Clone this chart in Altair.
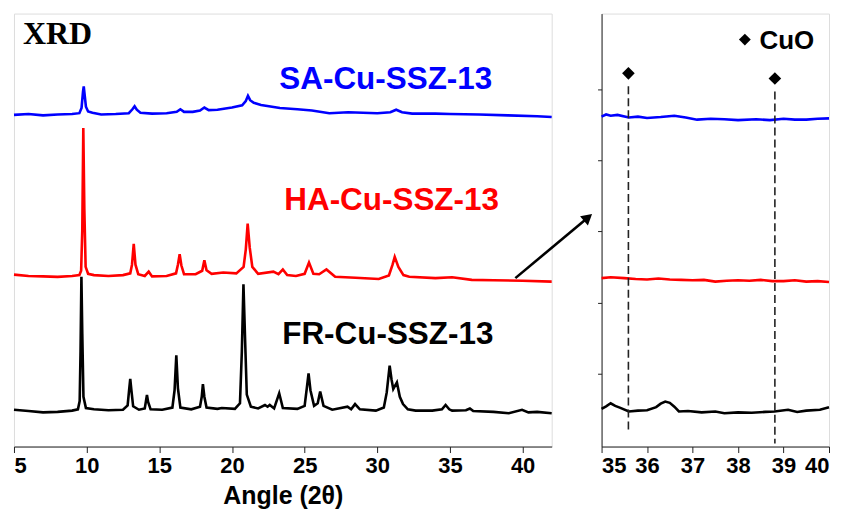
import altair as alt
import pandas as pd

# ---------------- data (angle 2theta, intensity a.u.) ----------------
sa_angle = [5.0, 6.0, 7.0, 8.0, 9.0, 9.5, 9.65, 9.75, 9.8, 9.87, 9.95, 10.1, 10.4, 11.0, 12.0, 12.9,
            13.15, 13.3, 13.45, 13.7, 14.5, 15.5, 16.2, 16.45, 16.7, 17.3, 17.8, 18.1, 18.4, 19.0,
            20.0, 20.7, 20.95, 21.1, 21.25, 21.5, 22.0, 23.3, 24.5, 25.5, 26.7, 28.0, 30.0, 30.9,
            31.3, 31.7, 32.4, 34.0, 35.0, 37.0, 39.0, 41.0, 42.0]
sa_int = [76.6, 76.8, 76.5, 76.7, 76.8, 77.0, 78.2, 82.0, 83.2, 81.0, 78.5, 77.4, 77.1, 76.7, 76.8, 77.0,
          77.9, 78.6, 77.8, 77.1, 76.9, 77.0, 77.3, 77.9, 77.3, 77.3, 77.6, 78.3, 77.7, 77.8,
          78.3, 78.8, 79.8, 81.0, 80.0, 79.4, 78.9, 78.2, 77.9, 77.6, 77.0, 77.2, 77.0, 77.2,
          77.8, 77.2, 76.9, 76.9, 76.8, 76.7, 76.5, 76.3, 76.1]

ha_angle = [5.0, 6.0, 7.0, 8.0, 9.0, 9.5, 9.62, 9.7, 9.77, 9.84, 9.93, 10.1, 10.5, 11.5, 12.5, 13.0,
            13.12, 13.24, 13.36, 13.55, 14.0, 14.27, 14.5, 15.5, 16.15, 16.28, 16.4, 16.52, 16.7,
            17.5, 17.95, 18.1, 18.25, 18.6, 19.4, 20.3, 20.8, 20.95, 21.08, 21.22, 21.4, 21.8,
            22.85, 23.2, 23.5, 23.8, 24.4, 25.0, 25.3, 25.6, 26.0, 26.5, 27.1, 28.5, 30.1, 30.8,
            31.05, 31.2, 31.45, 31.8, 32.2, 34.0, 35.15, 36.5, 38.0, 40.0, 42.0]
ha_int = [39.7, 39.4, 39.3, 39.2, 39.4, 39.6, 40.6, 50.0, 73.6, 55.0, 41.5, 39.9, 39.6, 39.4, 39.6, 40.0,
          42.0, 46.8, 42.0, 39.8, 39.4, 40.4, 39.3, 39.4, 40.0, 42.0, 44.4, 41.8, 39.8,
          39.8, 40.6, 43.0, 40.7, 39.9, 40.2, 40.0, 41.5, 45.5, 51.5, 46.0, 41.5, 39.9,
          40.4, 39.8, 40.9, 39.6, 39.4, 39.9, 42.5, 39.9, 39.8, 40.9, 39.2, 39.0, 38.7, 39.5,
          42.0, 43.8, 41.5, 39.6, 39.2, 38.9, 39.1, 38.5, 38.4, 38.3, 38.1]

fr_angle = [5.0, 6.0, 7.0, 8.0, 9.0, 9.4, 9.52, 9.58, 9.64, 9.7, 9.78, 9.95, 10.5, 11.5, 12.5, 12.82,
            12.92, 13.0, 13.08, 13.2, 13.6, 14.0, 14.08, 14.15, 14.23, 14.4, 15.2, 15.9, 16.05,
            16.17, 16.28, 16.45, 17.2, 17.8, 17.92, 18.0, 18.1, 18.25, 19.0, 19.3, 20.2, 20.55,
            20.68, 20.79, 20.9, 21.02, 21.3, 21.8, 22.27, 22.45, 22.6, 22.9, 23.25, 23.5, 24.5,
            25.0, 25.15, 25.27, 25.4, 25.65, 25.9, 26.07, 26.3, 26.9, 27.95, 28.2, 28.47, 28.8,
            29.9, 30.45, 30.65, 30.85, 30.98, 31.1, 31.35, 31.55, 31.77, 32.1, 32.64, 33.78,
            34.45, 34.7, 34.95, 35.15, 36.1, 36.37, 36.6, 38.0, 39.05, 39.96, 40.4, 41.0, 42.0]
fr_int = [8.5, 8.2, 7.9, 8.0, 8.3, 8.6, 10.5, 22.0, 39.2, 26.0, 11.5, 8.9, 8.6, 8.4, 8.5, 9.5,
          13.0, 15.6, 13.0, 9.3, 8.5, 8.8, 10.5, 11.9, 10.3, 8.6, 8.5, 9.0, 13.0,
          21.1, 13.5, 9.0, 8.6, 9.2, 11.5, 14.4, 11.5, 9.0, 8.7, 8.9, 8.7, 10.0,
          22.0, 37.5, 25.0, 12.0, 9.2, 8.8, 9.6, 9.2, 9.6, 8.8, 12.3, 8.9, 8.7,
          9.4, 13.5, 16.9, 13.0, 9.4, 10.0, 12.7, 9.4, 8.5, 9.2, 8.6, 9.8, 8.6,
          8.3, 9.0, 12.5, 18.7, 15.5, 13.3, 14.8, 11.5, 9.8, 8.6, 8.3, 8.3,
          8.6, 9.6, 8.6, 8.3, 8.4, 8.8, 8.2, 8.0, 7.7, 8.5, 7.9, 8.0, 7.7]

# zoomed window 35-40 degrees
z_sa_angle = [35.0, 35.1, 35.2, 35.35, 35.6, 35.8, 36.0, 36.3, 36.6, 36.85, 37.1, 37.4, 37.7, 38.0,
              38.4, 38.7, 39.0, 39.25, 39.5, 39.75, 40.0]
z_sa_int = [76.2, 76.7, 76.4, 76.6, 76.0, 76.2, 75.9, 76.1, 76.4, 76.0, 75.5, 75.7, 75.6, 75.4,
            75.6, 75.4, 75.7, 75.5, 75.5, 75.7, 75.8]
z_ha_angle = [35.0, 35.2, 35.5, 35.75, 36.0, 36.25, 36.5, 36.75, 37.0, 37.25, 37.5, 37.75, 38.0,
              38.25, 38.5, 38.75, 39.0, 39.25, 39.5, 39.75, 40.0]
z_ha_int = [38.9, 39.1, 38.9, 38.7, 38.6, 38.8, 38.6, 38.5, 38.4, 38.5, 38.1, 38.3, 38.4,
            38.3, 38.5, 38.2, 38.2, 38.4, 38.1, 38.2, 38.0]
z_fr_angle = [35.0, 35.1, 35.2, 35.3, 35.4, 35.6, 35.8, 36.0, 36.2, 36.3, 36.4, 36.5, 36.6, 36.7,
              36.9, 37.2, 37.5, 37.7, 38.0, 38.3, 38.6, 38.8, 39.1, 39.3, 39.5, 39.8, 40.0]
z_fr_int = [8.7, 9.3, 10.0, 9.4, 9.0, 8.1, 8.3, 8.4, 9.1, 9.9, 10.4, 10.1, 9.2, 8.1,
            8.2, 7.9, 8.1, 7.7, 7.9, 7.8, 8.0, 8.1, 8.5, 8.0, 8.3, 8.5, 9.1]

series = ["SA-Cu-SSZ-13", "HA-Cu-SSZ-13", "FR-Cu-SSZ-13"]
series_colors = ["#0000ff", "#ff0000", "#000000"]

# text annotations (left panel)
label_x = [23.26, 23.6, 23.46]
label_y = [82.5, 54.6, 23.7]

# CuO reflections in zoomed window
cuo_angle = [35.59, 38.81]
cuo_marker_y = [86.2, 85.0]
cuo_line_top = [83.2, 82.0]
cuo_line_bottom = [3.0, 0.7]

# arrow from left panel to zoom window
arrow_x = [39.5, 44.5]
arrow_y = [38.9, 52.9]

right_ticks = [16.8, 33.2, 49.8, 66.1, 82.5]

FONT = "Liberation Sans"


def build(angles, ints, name):
    return pd.DataFrame({"angle": angles, "intensity": ints, "sample": name})


left_df = pd.concat([build(sa_angle, sa_int, series[0]),
                     build(ha_angle, ha_int, series[1]),
                     build(fr_angle, fr_int, series[2])])
right_df = pd.concat([build(z_sa_angle, z_sa_int, series[0]),
                      build(z_ha_angle, z_ha_int, series[1]),
                      build(z_fr_angle, z_fr_int, series[2])])

color = alt.Color("sample:N", scale=alt.Scale(domain=series, range=series_colors), legend=None)
yscale = alt.Scale(domain=[0, 100], nice=False, zero=False)

axis_common = dict(labelFont=FONT, labelFontWeight="bold", labelFontSize=22, labelColor="black",
                   titleFont=FONT, titleFontWeight="bold", titleFontSize=25, titleColor="black",
                   tickColor="#222", domainColor="#222", grid=False, labelOverlap=False,
                   labelPadding=3)

x_left = alt.X("angle:Q", scale=alt.Scale(domain=[5, 42], nice=False, zero=False),
               axis=alt.Axis(title="Angle (2θ)",
                             values=[5 + 2.5 * i for i in range(15)],
                             labelExpr="datum.value % 5 === 0 ? format(datum.value, 'd') : ''",
                             tickSize={"condition": {"test": "datum.value % 5 === 0", "value": 6}, "value": 4},
                             titlePadding=7, **axis_common))

W_L, H = 539, 434
W_R = 228

lines_left = alt.Chart(left_df).mark_line(strokeWidth=2.6).encode(
    x=x_left,
    y=alt.Y("intensity:Q", scale=yscale, axis=None),
    color=color,
    detail="sample:N",
)

labels_df = pd.DataFrame({"angle": label_x, "intensity": label_y, "sample": series})
labels = alt.Chart(labels_df).mark_text(font=FONT, fontWeight="bold", fontSize=31.5, align="left",
                                        baseline="alphabetic").encode(
    x="angle:Q", y="intensity:Q", text="sample:N", color=color)

xrd = alt.Chart(pd.DataFrame({"angle": [5.62], "intensity": [92.9], "t": ["XRD"]})).mark_text(
    font="Liberation Serif", fontWeight="bold", fontSize=32, align="left", baseline="alphabetic",
    color="black").encode(x="angle:Q", y="intensity:Q", text="t:N")

arrow_df = pd.DataFrame({"x": [arrow_x[0]], "y": [arrow_y[0]], "x2": [arrow_x[1]], "y2": [arrow_y[1]]})
arrow_line = alt.Chart(arrow_df).mark_rule(strokeWidth=2.6, color="black").encode(
    x="x:Q", y="y:Q", x2="x2:Q", y2="y2:Q")
arrow_head = alt.Chart(pd.DataFrame({"x": [arrow_x[1]], "y": [arrow_y[1]]})).mark_point(
    shape="triangle-up", filled=True, size=150, angle=50, color="black", opacity=1).encode(
    x="x:Q", y="y:Q")

left = alt.layer(lines_left, labels, xrd, arrow_line, arrow_head).properties(width=W_L, height=H)

# ---------------- right panel ----------------
x_right = alt.X("angle:Q", scale=alt.Scale(domain=[35, 40], nice=False, zero=False),
                axis=alt.Axis(title=None, values=[35 + 0.5 * i for i in range(11)],
                              labelExpr="datum.value % 1 === 0 ? format(datum.value, 'd') : ''",
                              tickSize={"condition": {"test": "datum.value % 1 === 0", "value": 6}, "value": 4},
                              **axis_common))

lines_right = alt.Chart(right_df).mark_line(strokeWidth=2.6).encode(
    x=x_right,
    y=alt.Y("intensity:Q", scale=yscale,
            axis=alt.Axis(title=None, labels=False, values=right_ticks, tickSize=4,
                          tickColor="#222", domainColor="#222", grid=False)),
    color=color,
    detail="sample:N",
)

cuo_df = pd.DataFrame({"angle": cuo_angle, "top": cuo_line_top, "bottom": cuo_line_bottom,
                       "marker": cuo_marker_y})
dashes = alt.Chart(cuo_df).mark_rule(strokeDash=[8, 4], strokeWidth=1.6, color="#222").encode(
    x="angle:Q", y="top:Q", y2="bottom:Q")
diamonds = alt.Chart(cuo_df).mark_point(shape="diamond", filled=True, size=160, color="black",
                                        opacity=1).encode(x="angle:Q", y="marker:Q")

legend_diamond = alt.Chart(pd.DataFrame({"angle": [38.15], "intensity": [94.0]})).mark_point(
    shape="diamond", filled=True, size=140, color="black", opacity=1).encode(x="angle:Q", y="intensity:Q")
legend_text = alt.Chart(pd.DataFrame({"angle": [38.47], "intensity": [91.9], "t": ["CuO"]})).mark_text(
    font=FONT, fontWeight="bold", fontSize=26, align="left", baseline="alphabetic", color="black").encode(
    x="angle:Q", y="intensity:Q", text="t:N")

right = alt.layer(lines_right, dashes, diamonds, legend_diamond, legend_text).properties(width=W_R, height=H)

chart = alt.hconcat(left, right, spacing=50, bounds="flush").properties(
    padding={"left": 0, "top": 4, "right": 0, "bottom": 0}
).configure_view(stroke="#333", strokeWidth=1.5).configure(background="white")

chart.save("out.html", embed_options={"renderer": "svg", "actions": False})
